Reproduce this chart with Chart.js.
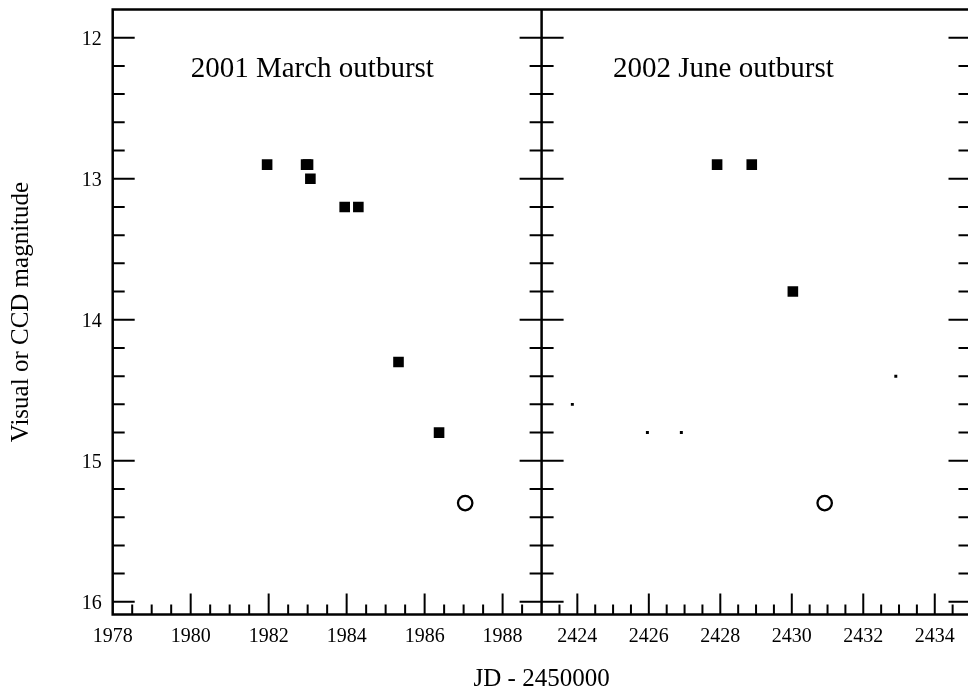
<!DOCTYPE html>
<html>
<head>
<meta charset="utf-8">
<script src="https://cdn.jsdelivr.net/npm/chart.js@4"></script>
<style>
html,body{margin:0;padding:0;background:#fff;overflow:hidden;width:968px;height:693px}
#wrap{position:absolute;left:0;top:0;width:980px;height:693px}
</style>
</head>
<body>
<div id="wrap"><canvas id="c"></canvas></div>
<script>
// ---- tick labels and texts ----
const yTickLabels = [12, 13, 14, 15, 16];
const xLeftTickLabels = [1978, 1980, 1982, 1984, 1986, 1988];
const xRightTickLabels = [2424, 2426, 2428, 2430, 2432, 2434];
const panelTitles = ['2001 March outburst', '2002 June outburst'];
const xTitle = 'JD - 2450000';
const yTitle = 'Visual or CCD magnitude';

// ---- 2001 March outburst ----
const marchSquaresJD  = [1981.96, 1982.96, 1983.01, 1983.07, 1983.95, 1984.3, 1985.33, 1986.37];
const marchSquaresMag = [12.9,    12.9,    12.9,    13.0,    13.2,    13.2,   14.3,    14.8];
const marchCircleJD   = [1987.04];
const marchCircleMag  = [15.3];

// ---- 2002 June outburst ----
const juneSquaresJD  = [2427.91, 2428.88, 2430.03];
const juneSquaresMag = [12.9,    12.9,    13.8];
const juneDotsJD     = [2423.86, 2425.96, 2426.91, 2432.91];
const juneDotsMag    = [14.6,    14.8,    14.8,    14.4];
const juneCircleJD   = [2430.92];
const juneCircleMag  = [15.3];

const FONT = '"Liberation Serif", "Times New Roman", serif';
Chart.defaults.color = '#000';
Chart.defaults.font.family = FONT;

const pts = (xs, ys) => xs.map((x, i) => ({x: x, y: ys[i]}));

const framePlugin = {
  id: 'frame',
  afterDraw(chart) {
    const {ctx, chartArea: a, scales} = chart;
    const y = scales.y, xl = scales.x1, xr = scales.x2;
    const mid = xl.right;
    ctx.save();
    ctx.strokeStyle = '#000';
    ctx.lineCap = 'butt';
    ctx.lineWidth = 2;
    ctx.beginPath();
    const yFirst = yTickLabels[0], yLast = yTickLabels[yTickLabels.length - 1];
    const nY = Math.round((yLast - yFirst) / 0.2);
    for (let i = 0; i <= nY; i++) {
      const v = yFirst + i * 0.2;
      const py = y.getPixelForValue(v);
      const len = i % 5 === 0 ? 22 : 12;
      ctx.moveTo(a.left, py); ctx.lineTo(a.left + len, py);
      ctx.moveTo(mid - len, py); ctx.lineTo(mid + len, py);
      ctx.moveTo(a.right - len, py); ctx.lineTo(a.right, py);
    }
    [xl, xr].forEach(s => {
      const n = Math.round((s.max - s.min) / 0.5);
      for (let i = 1; i < n; i++) {
        const v = s.min + i * 0.5;
        const px = s.getPixelForValue(v);
        const major = Math.abs(v / 2 - Math.round(v / 2)) < 1e-6;
        const len = major ? 21 : 10;
        ctx.moveTo(px, a.bottom); ctx.lineTo(px, a.bottom - len);
      }
    });
    ctx.stroke();
    ctx.lineWidth = 2.5;
    ctx.strokeRect(a.left, a.top, a.right - a.left, a.bottom - a.top);
    ctx.beginPath(); ctx.moveTo(mid, a.top); ctx.lineTo(mid, a.bottom); ctx.stroke();
    ctx.fillStyle = '#000';
    ctx.font = '29px ' + FONT;
    ctx.textAlign = 'left';
    ctx.textBaseline = 'alphabetic';
    ctx.fillText(panelTitles[0], xl.getPixelForValue(1980), y.getPixelForValue(12.28));
    ctx.fillText(panelTitles[1], xr.getPixelForValue(2425), y.getPixelForValue(12.28));
    ctx.restore();
  }
};

const squareStyle = {pointStyle: 'rect', pointRadius: 7.5, backgroundColor: '#000', borderWidth: 0, showLine: false};
const dotStyle = {pointStyle: 'rect', pointRadius: 2.1, backgroundColor: '#000', borderWidth: 0, showLine: false};
const circleStyle = {pointStyle: 'circle', pointRadius: 7.2, backgroundColor: 'rgba(0,0,0,0)', borderColor: '#000', borderWidth: 2.3, showLine: false};

const xAxis = (min, max, labels) => ({
  type: 'linear', position: 'bottom', stack: 'jd', stackWeight: 1,
  min: min, max: max,
  afterBuildTicks: s => { s.ticks = labels.map(v => ({value: v})); },
  afterFit: s => { s.height = 38; s.paddingLeft = 0; s.paddingRight = 0; },
  grid: {display: false, drawTicks: false},
  border: {display: false},
  ticks: {autoSkip: false, maxRotation: 0, padding: 10.5, font: {size: 20}, callback: v => String(v)}
});

new Chart(document.getElementById('c'), {
  type: 'scatter',
  data: {
    datasets: [
      Object.assign({data: pts(marchSquaresJD, marchSquaresMag), xAxisID: 'x1', yAxisID: 'y'}, squareStyle),
      Object.assign({data: pts(marchCircleJD, marchCircleMag), xAxisID: 'x1', yAxisID: 'y'}, circleStyle),
      Object.assign({data: pts(juneSquaresJD, juneSquaresMag), xAxisID: 'x2', yAxisID: 'y'}, squareStyle),
      Object.assign({data: pts(juneDotsJD, juneDotsMag), xAxisID: 'x2', yAxisID: 'y'}, dotStyle),
      Object.assign({data: pts(juneCircleJD, juneCircleMag), xAxisID: 'x2', yAxisID: 'y'}, circleStyle)
    ]
  },
  options: {
    responsive: true,
    maintainAspectRatio: false,
    animation: false,
    events: [],
    layout: {padding: {top: 9, right: 8, bottom: 0, left: 0}},
    scales: {
      x1: xAxis(1978, 1989, xLeftTickLabels),
      x2: xAxis(2423, 2435, xRightTickLabels),
      y: {
        type: 'linear', position: 'left', reverse: true,
        min: 11.8, max: 16.09,
        afterBuildTicks: s => { s.ticks = yTickLabels.map(v => ({value: v})); },
        afterFit: s => { s.width = 112.7; s.paddingTop = 0; s.paddingBottom = 0; },
        grid: {display: false, drawTicks: false},
        border: {display: false},
        ticks: {autoSkip: false, padding: 11, labelOffset: 2, font: {size: 20}, callback: v => String(v)},
        title: {display: true, text: yTitle, font: {size: 25}, padding: {top: 6.5, bottom: 0}}
      }
    },
    plugins: {
      legend: {display: false},
      tooltip: {enabled: false},
      title: {
        display: true, text: xTitle, position: 'bottom', fullSize: false,
        font: {size: 25, weight: 'normal', lineHeight: 1},
        color: '#000', padding: {top: 14.5, bottom: 1}
      }
    }
  },
  plugins: [framePlugin]
});
</script>
</body>
</html>
